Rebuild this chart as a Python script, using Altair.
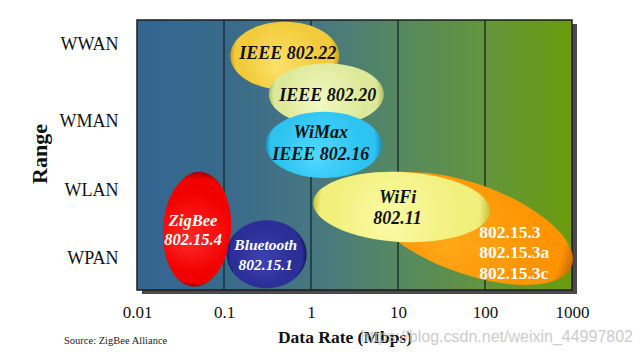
import altair as alt
import pandas as pd

# ---------------- data ----------------
x_ticks = [0.01, 0.1, 1, 10, 100, 1000]
grid_ticks = [0.1, 1, 10, 100]
range_labels = ["WPAN", "WLAN", "WMAN", "WWAN"]
range_ticks = [0.47, 1.48, 2.49, 3.63]
range_domain = [0, 4]

techs = ["802.15.3", "WiFi", "IEEE 802.22", "IEEE 802.20", "WiMax", "ZigBee", "Bluetooth"]
tech_labels = [
    "802.15.3\n802.15.3a\n802.15.3c",
    "WiFi\n802.11",
    "IEEE 802.22",
    "IEEE 802.20",
    "WiMax\nIEEE 802.16",
    "ZigBee\n802.15.4",
    "Bluetooth\n802.15.1",
]
rates = [66, 11, 0.5, 1.5, 1.4, 0.049, 0.31]      # Mbps (centre of each ellipse)
levels = [0.91, 1.23, 3.47, 2.90, 2.15, 0.90, 0.53]  # range level (centre)

source_text = ["Source: ZigBee Alliance"]
watermark_text = ["https://blog.csdn.net/weixin_44997802"]

df = pd.DataFrame({"tech": techs, "label": tech_labels, "rate": rates, "level": levels})
bg_df = pd.DataFrame({"rate": [x_ticks[0]], "rate_end": [x_ticks[-1]],
                      "level": [range_domain[0]], "level_end": [range_domain[1]]})
grid_df = pd.DataFrame({"rate": grid_ticks})

# ---------------- styles ----------------
styles = {
    "802.15.3":   dict(w=218, h=90, angle=20, c=("#ffa81a", "#ff9400", "#d06800"),
                       tc="white", fs=17.5, italic=False, dx=10, dy=4, lh=20.8, align="left"),
    "WiFi":       dict(w=177, h=70, angle=3, c=("#fbfba8", "#f1f07c", "#c9c03e"),
                       tc="#111111", fs=18, italic=True, dx=-4, dy=-9, lh=21, align="center"),
    "IEEE 802.22": dict(w=109, h=68, angle=0, c=("#fbe26a", "#f2cb3a", "#cd9c1a"),
                       tc="#111111", fs=18, italic=True, dx=3, dy=-2, lh=20, align="center"),
    "IEEE 802.20": dict(w=115, h=62, angle=0, c=("#f2f9c4", "#dde99a", "#afbd5c"),
                       tc="#111111", fs=18, italic=True, dx=1.5, dy=2, lh=20, align="center"),
    "WiMax":      dict(w=116, h=66, angle=0, c=("#52d8ff", "#2ec4f2", "#168fc6"),
                       tc="#111111", fs=18, italic=True, dx=-3, dy=-12, lh=22, align="center"),
    "ZigBee":     dict(w=68, h=115, angle=4, c=("#ff2a2a", "#f20000", "#9c0000"),
                       tc="white", fs=16.5, italic=True, dx=-4, dy=-8, lh=19, align="center"),
    "Bluetooth":  dict(w=80, h=68, angle=0, c=("#3d43b4", "#2c2f98", "#18195e"),
                       tc="white", fs=15.5, italic=True, dx=-1, dy=-9, lh=20, align="center"),
}


def ellipse_path(k):
    K = 0.5523
    a = K * k
    return (f"M -1 0 C -1 {-a:.4f} {-K} {-k:.4f} 0 {-k:.4f} "
            f"C {K} {-k:.4f} 1 {-a:.4f} 1 0 "
            f"C 1 {a:.4f} {K} {k:.4f} 0 {k:.4f} "
            f"C {-K} {k:.4f} -1 {a:.4f} -1 0 Z")


def radial(light, base, dark):
    return {"gradient": "radial", "x1": 0.42, "y1": 0.6, "r1": 0,
            "x2": 0.5, "y2": 0.5, "r2": 0.5,
            "stops": [{"offset": 0, "color": light},
                      {"offset": 0.7, "color": base},
                      {"offset": 0.9, "color": base},
                      {"offset": 1, "color": dark}]}


SERIF = "Liberation Serif"

label_expr = " : ".join(
    f"abs(datum.value - {t}) < 0.01 ? '{l}'" for t, l in zip(range_ticks, range_labels)
) + " : ''"

xscale = alt.Scale(type="log", domain=[x_ticks[0], x_ticks[-1]], nice=False)
yscale = alt.Scale(domain=range_domain, nice=False, zero=False)

xaxis = alt.Axis(values=x_ticks, format="~g", title="Data Rate (Mbps)", grid=False,
                 ticks=False, tickSize=0, domain=False, labelFont=SERIF, labelFontSize=17,
                 labelColor="#111111", labelPadding=14, labelFlush=False, labelOverlap=False,
                 titleFont=SERIF, titleFontSize=17.5, titleFontWeight="bold",
                 titleColor="#111111", titleX=207.5, titleY=52, titleBaseline="alphabetic",
                 titleAlign="center")
yaxis = alt.Axis(values=range_ticks, labelExpr=label_expr, title="Range", grid=False,
                 ticks=False, tickSize=0, domain=False, labelFont=SERIF, labelFontSize=18,
                 labelColor="#111111", labelPadding=19, labelOverlap=False,
                 titleFont=SERIF, titleFontSize=22, titleFontWeight="bold",
                 titleColor="#111111", titleAngle=270, titleX=-91, titleY=133.5,
                 titleBaseline="alphabetic", titleAlign="center")

X = alt.X("rate:Q", scale=xscale, axis=xaxis)
Y = alt.Y("level:Q", scale=yscale, axis=yaxis)

bg_gradient = {"gradient": "linear", "x1": 0, "y1": 0, "x2": 1, "y2": 0,
               "stops": [{"offset": 0, "color": "#346592"},
                         {"offset": 0.2, "color": "#386a8b"},
                         {"offset": 0.4, "color": "#467681"},
                         {"offset": 0.6, "color": "#568862"},
                         {"offset": 0.8, "color": "#62953c"},
                         {"offset": 1, "color": "#6b9c0c"}]}

shadow = alt.Chart(bg_df).mark_rect(
    fill="#4a4a4a", xOffset=5, x2Offset=5, yOffset=4, y2Offset=4
).encode(x=X, x2="rate_end:Q", y=Y, y2="level_end:Q")

background = alt.Chart(bg_df).mark_rect(
    fill=bg_gradient, stroke="#1d1d1d", strokeWidth=1.5
).encode(x=X, x2="rate_end:Q", y=Y, y2="level_end:Q")

grid = alt.Chart(grid_df).mark_rule(color="#17262a", strokeWidth=1.3).encode(x=X)

layers = [shadow, background, grid]
for name in techs:
    s = styles[name]
    base = alt.Chart(df).transform_filter(alt.datum.tech == name)
    ell = base.mark_point(
        shape=ellipse_path(s["h"] / s["w"]), size=s["w"] ** 2, angle=s["angle"],
        filled=True, fill=radial(*s["c"]), opacity=1, strokeOpacity=0
    ).encode(x=X, y=Y)
    txt = base.mark_text(
        font=SERIF, fontSize=s["fs"], fontWeight="bold",
        fontStyle="italic" if s["italic"] else "normal",
        color=s["tc"], align=s["align"], baseline="middle",
        dx=s["dx"], dy=s["dy"], lineBreak="\n", lineHeight=s["lh"]
    ).encode(x=X, y=Y, text="label:N")
    layers += [ell, txt]

source = alt.Chart(pd.DataFrame({"t": source_text})).mark_text(
    font=SERIF, fontSize=10.5, color="#222222", align="left", baseline="middle"
).encode(x=alt.value(-73), y=alt.value(321), text="t:N")

watermark = alt.Chart(pd.DataFrame({"t": watermark_text})).mark_text(
    font="Liberation Sans", fontSize=16, color="#c4c4c4", opacity=0.85,
    align="right", baseline="alphabetic"
).encode(x=alt.value(496), y=alt.value(322), text="t:N")

layers += [source, watermark]

chart = alt.layer(*layers).properties(
    width=435, height=270,
    padding={"left": 137, "top": 20, "right": 71, "bottom": 64},
    autosize=alt.AutoSizeParams(type="none"),
    background="white",
).configure_view(strokeOpacity=0)

chart.save("out.html", embed_options={"renderer": "svg", "actions": False})
